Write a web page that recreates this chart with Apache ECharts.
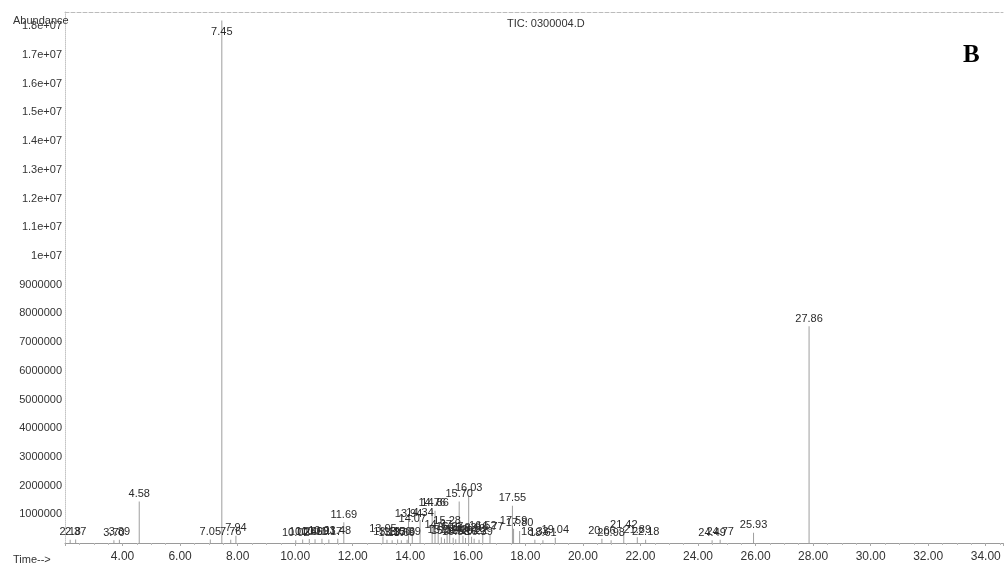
<!DOCTYPE html>
<html>
<head>
<meta charset="utf-8">
<script src="https://cdn.jsdelivr.net/npm/echarts@6/dist/echarts.min.js"></script>
<style>html,body{margin:0;padding:0;background:#fff}#c{width:1006px;height:565px}</style>
</head>
<body>
<div id="c"></div>
<script>
// Retention times (min) of labelled peaks
const peakTimes = [2.18, 2.37, 3.70, 3.89, 4.58, 7.05, 7.45, 7.76, 7.94,
  10.02, 10.26, 10.49, 10.69, 10.93, 11.17, 11.48, 11.69,
  13.05, 13.19, 13.37, 13.56, 13.69, 13.89, 13.94, 14.07, 14.34, 14.76, 14.86, 14.97,
  15.08, 15.19, 15.28, 15.37, 15.49, 15.58, 15.70, 15.83, 15.92, 16.03, 16.13, 16.22,
  16.39, 16.52, 16.77, 17.55, 17.59, 17.80, 18.33, 18.61, 19.04,
  20.66, 20.98, 21.42, 21.89, 22.18, 24.49, 24.77, 25.93, 27.86];
// Abundance at peak apex
const peakHeights = [110000, 120000, 100000, 110000, 1450000, 120000, 18200000, 110000, 250000,
  100000, 120000, 140000, 130000, 150000, 120000, 150000, 720000,
  230000, 110000, 100000, 120000, 100000, 110000, 740000, 560000, 800000, 1150000, 1120000, 380000,
  200000, 150000, 500000, 300000, 180000, 130000, 1450000, 250000, 170000, 1650000, 220000, 150000,
  110000, 330000, 300000, 1300000, 500000, 420000, 110000, 100000, 180000,
  150000, 100000, 360000, 200000, 110000, 100000, 110000, 360000, 7550000];
const xTicks = [4, 6, 8, 10, 12, 14, 16, 18, 20, 22, 24, 26, 28, 30, 32, 34];

const FONT = '"Liberation Sans", Arial, sans-serif';
const data = peakTimes.map((t, i) => {
  const d = { value: [t, peakHeights[i]] };
  if (peakHeights[i] > 1.8e7) {
    d.label = { position: 'insideTop', distance: 6 };
  }
  return d;
});

function yFmt(v) {
  if (v === 0 || v > 1.8e7 + 1) return '';
  if (v >= 1e7) return (Math.round(v / 1e6) / 10) + 'e+07';
  return String(Math.round(v));
}

const chart = echarts.init(document.getElementById('c'), null, { renderer: 'canvas' });
chart.setOption({
  animation: false,
  backgroundColor: '#fff',
  title: [
    { text: 'Abundance', left: 8, top: 10, textStyle: { fontFamily: FONT, fontSize: 11, fontWeight: 'normal', color: '#333' } },
    { text: 'TIC: 0300004.D', left: 502, top: 13, textStyle: { fontFamily: FONT, fontSize: 11, fontWeight: 'normal', color: '#333' } },
    { text: 'B', left: 958, top: 38, textStyle: { fontFamily: '"Liberation Serif", "DejaVu Serif", serif', fontSize: 25, fontWeight: 'bold', color: '#000' } },
    { text: 'Time-->', left: 8, top: 549, textStyle: { fontFamily: FONT, fontSize: 11, fontWeight: 'normal', color: '#333' } }
  ],
  grid: { left: 65, right: 0, top: 12, bottom: 22, containLabel: false },
  xAxis: [{
    type: 'value', min: 2, max: 34.6, interval: 2,
    axisLine: { show: true, lineStyle: { color: '#9a9a9a', width: 1 } },
    axisTick: { show: true, length: 3, lineStyle: { color: '#aaa' } },
    minorTick: { show: true, splitNumber: 4, length: 2, lineStyle: { color: '#bbb' } },
    splitLine: { show: false },
    axisLabel: {
      margin: 8, fontFamily: FONT, fontSize: 12, color: '#333',
      formatter: v => xTicks.indexOf(Math.round(v)) >= 0 && Math.abs(v - Math.round(v)) < 1e-6 ? v.toFixed(2) : ''
    }
  }, {
    type: 'value', position: 'top', min: 2, max: 34.6,
    axisLine: { show: true, lineStyle: { color: '#bbb', type: 'dashed', width: 1 } },
    axisTick: { show: false }, axisLabel: { show: false }, splitLine: { show: false }
  }],
  yAxis: {
    type: 'value', min: 0, max: 1.85e7, interval: 1e6,
    axisLine: { show: true, lineStyle: { color: '#c4c4c4', type: 'dotted', width: 1 } },
    axisTick: { show: false },
    splitLine: { show: false },
    axisLabel: { margin: 3, fontFamily: FONT, fontSize: 11, color: '#333', formatter: yFmt }
  },
  series: [{
    type: 'bar',
    xAxisIndex: 0,
    barWidth: 1,
    barGap: '-100%',
    itemStyle: { color: '#9e9e9e' },
    label: {
      show: true, position: 'top', distance: 2,
      fontFamily: FONT, fontSize: 11, color: '#2a2a2a',
      formatter: p => p.value[0].toFixed(2)
    },
    labelLayout: { hideOverlap: false },
    data: data
  }]
});
</script>
</body>
</html>
